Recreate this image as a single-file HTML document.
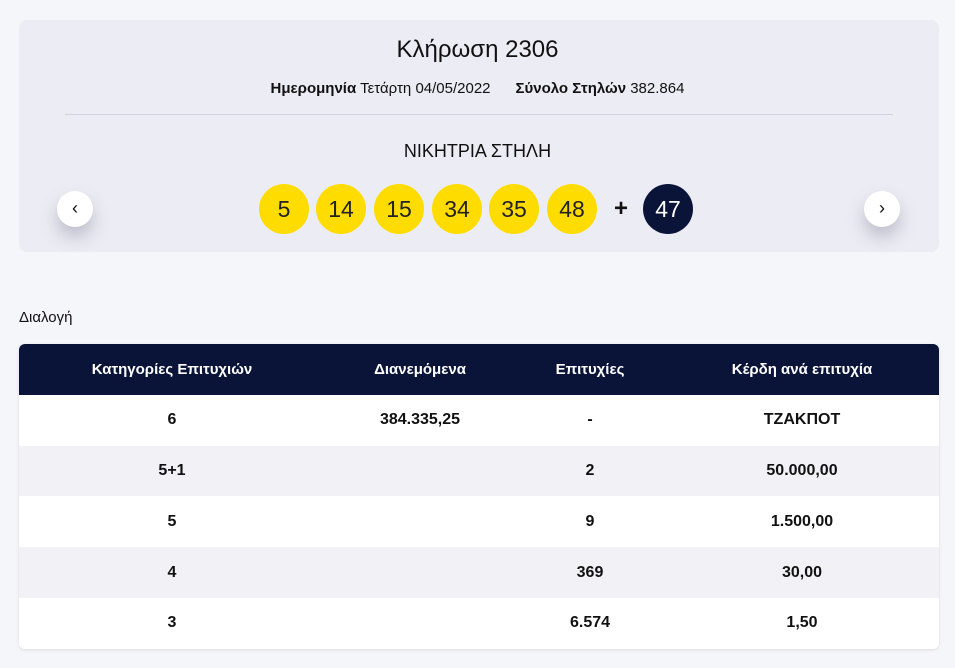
<!DOCTYPE html>
<html><head><meta charset="utf-8"><style>
*{margin:0;padding:0;box-sizing:border-box}
body{width:955px;height:668px;background:#f5f6fa;font-family:"Liberation Sans","Noto Sans CJK SC",sans-serif;color:#111;position:relative;overflow:hidden}
.card{position:absolute;left:19px;top:20px;width:920px;height:232px;background:#ecedf4;border-radius:8px}
.t{position:absolute;left:0;width:955px;text-align:center}
.hr{position:absolute;left:65px;width:828px;top:114px;height:1px;background:#cfd1dc}
.ball{position:absolute;top:184px;width:50px;height:50px;border-radius:50%;background:#ffdc00;font-size:23px;line-height:50px;text-align:center;color:#222}
.btn{position:absolute;top:191px;width:36px;height:36px;border-radius:50%;background:#fff;box-shadow:0 10px 18px rgba(60,60,90,.28);text-align:center;line-height:34px;font-size:18px}
table{position:absolute;left:19px;top:344px;width:920px;border-collapse:collapse;border-radius:6px;overflow:hidden;box-shadow:0 1px 3px rgba(0,0,0,.1)}
td,th{height:50.8px;text-align:center;font-size:16px;font-weight:bold}
th{background:#0a1438;color:#fff;font-size:15px}
tr:nth-child(odd) td{background:#f2f2f6}
tr:nth-child(even) td{background:#fff}
</style></head><body>
<div class="card"></div>
<div class="t" style="top:36px;font-size:24px">Κλήρωση 2306</div>
<div class="t" style="top:80px;font-size:15px"><b>Ημερομηνία</b> Τετάρτη 04/05/2022 &nbsp;&nbsp;&nbsp;&nbsp; <b>Σύνολο Στηλών</b> 382.864</div>
<div class="hr"></div>
<div class="t" style="top:141px;font-size:18px">ΝΙΚΗΤΡΙΑ ΣΤΗΛΗ</div>
<div class="btn" style="left:57px">‹</div>
<div class="btn" style="left:864px">›</div>
<div class="ball" style="left:259px">5</div>
<div class="ball" style="left:316px">14</div>
<div class="ball" style="left:374px">15</div>
<div class="ball" style="left:432px">34</div>
<div class="ball" style="left:489px">35</div>
<div class="ball" style="left:547px">48</div>
<div style="position:absolute;left:614px;top:195px;font-size:24px;font-weight:bold">+</div>
<div class="ball" style="left:643px;background:#0a1438;color:#fff">47</div>
<div style="position:absolute;left:19px;top:309px;font-size:15px">Διαλογή</div>
<table>
<tr><th style="width:306px">Κατηγορίες Επιτυχιών</th><th style="width:190px">Διανεμόμενα</th><th style="width:150px">Επιτυχίες</th><th>Κέρδη ανά επιτυχία</th></tr>
<tr><td>6</td><td>384.335,25</td><td>-</td><td>ΤΖΑΚΠΟΤ</td></tr>
<tr><td>5+1</td><td></td><td>2</td><td>50.000,00</td></tr>
<tr><td>5</td><td></td><td>9</td><td>1.500,00</td></tr>
<tr><td>4</td><td></td><td>369</td><td>30,00</td></tr>
<tr><td>3</td><td></td><td>6.574</td><td>1,50</td></tr>
</table>
</body></html>
